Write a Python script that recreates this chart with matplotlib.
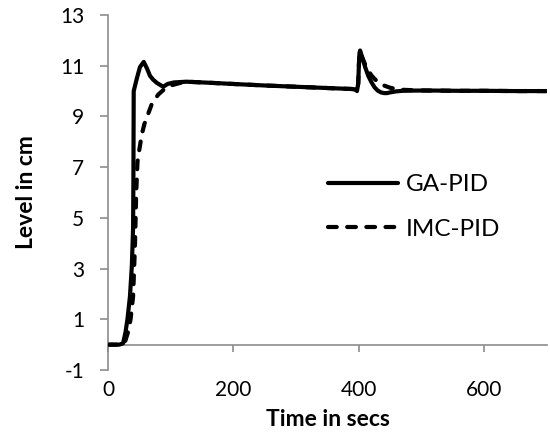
import matplotlib
matplotlib.use("Agg")
import matplotlib.pyplot as plt

plt.rcParams['font.family'] = ['Lato', 'DejaVu Sans']
plt.rcParams['axes.unicode_minus'] = False

# GA-PID response (time in s, level in cm)
ga_t = [0, 18, 24, 28, 31, 35, 38, 40, 40.5, 41, 46, 51, 57, 62, 67, 72, 78, 88, 95, 105, 125]
ga_v = [0, 0, 0.05, 0.5, 1.0, 1.9, 3.1, 4.6, 6.5, 10.0, 10.5, 10.95, 11.15, 10.9, 10.6, 10.45, 10.32, 10.17, 10.28, 10.34, 10.37]

# IMC-PID response
imc_t = [0, 22, 27, 32, 36, 40, 43, 45, 47, 50, 54, 58, 64, 70, 80, 90, 100, 115, 125]
imc_v = [0, 0, 0.1, 0.5, 1.0, 1.9, 3.9, 6.0, 7.2, 7.7, 8.3, 8.7, 9.1, 9.5, 9.86, 10.08, 10.22, 10.32, 10.37]

# common slow drift before the disturbance
mid_t = [160, 200, 250, 300, 350, 390, 395, 397]
mid_v = [10.33, 10.28, 10.22, 10.17, 10.12, 10.08, 10.05, 10.0]

# after the disturbance at 400 s
ga_dist_t = [399, 400, 401, 402, 405, 410, 415, 420, 425, 430, 435, 440, 445, 450, 460, 470, 490, 520, 560, 600, 650, 700]
ga_dist_v = [10.3, 11.0, 11.5, 11.6, 11.35, 10.95, 10.6, 10.35, 10.15, 10.02, 9.95, 9.92, 9.92, 9.95, 9.99, 10.01, 10.02, 10.02, 10.01, 10.01, 10.0, 10.0]
imc_dist_t = [399, 400, 401, 402, 405, 410, 415, 420, 425, 430, 440, 450, 460, 470, 490, 520, 560, 600, 650, 700]
imc_dist_v = [10.3, 11.0, 11.45, 11.55, 11.35, 11.05, 10.8, 10.62, 10.48, 10.37, 10.22, 10.13, 10.08, 10.05, 10.03, 10.02, 10.01, 10.01, 10.0, 10.0]

xticks = [0, 200, 400, 600]
yticks = [-1, 1, 3, 5, 7, 9, 11, 13]

fig = plt.figure(figsize=(5.5, 4.41), dpi=100)
ax = fig.add_axes([108/550, 1-370/441, 439/550, 355/441])

gray = '#8c8c8c'
ax.plot(ga_t + mid_t + ga_dist_t, ga_v + mid_v + ga_dist_v, color='black', lw=3.0,
        solid_capstyle='round', solid_joinstyle='round', label='GA-PID', zorder=3)
ax.plot(imc_t + mid_t + imc_dist_t, imc_v + mid_v + imc_dist_v, color='black', lw=3.0,
        ls=(0, (2.1, 2.5)), dash_capstyle='round', label='IMC-PID', zorder=2)

ax.set_xlim(0, 700)
ax.set_ylim(-1, 13)
ax.set_yticks(yticks)
ax.set_xticks(xticks)

for s in ['top', 'right']:
    ax.spines[s].set_visible(False)
ax.spines['left'].set_color(gray)
ax.spines['bottom'].set_color(gray)
ax.spines['bottom'].set_position(('data', 0))
ax.spines['left'].set_linewidth(1.2)
ax.spines['bottom'].set_linewidth(1.2)

ax.tick_params(axis='y', direction='out', length=6, width=1.2, color=gray,
               labelsize=15, pad=11)
ax.tick_params(axis='x', direction='out', length=5, width=1.2, color=gray,
               labelbottom=False)

# Excel-style: labels at the bottom of the plot area
sec = ax.secondary_xaxis('bottom')
sec.set_xticks(xticks)
sec.spines['bottom'].set_visible(False)
sec.tick_params(axis='x', length=0, labelsize=15, pad=7)
sec.set_xlabel('Time in secs', fontsize=16.5, fontweight='bold', labelpad=7)

ax.set_ylabel('Level in cm', fontsize=16.5, fontweight='bold', labelpad=17)

ax.legend(loc='center left', bbox_to_anchor=(328/550, 1-207/441), bbox_transform=fig.transFigure,
          frameon=False, fontsize=17.5, handlelength=2.9, handletextpad=0.3,
          labelspacing=0.95, borderpad=0, borderaxespad=0)

fig.savefig('out.png', dpi=100)
